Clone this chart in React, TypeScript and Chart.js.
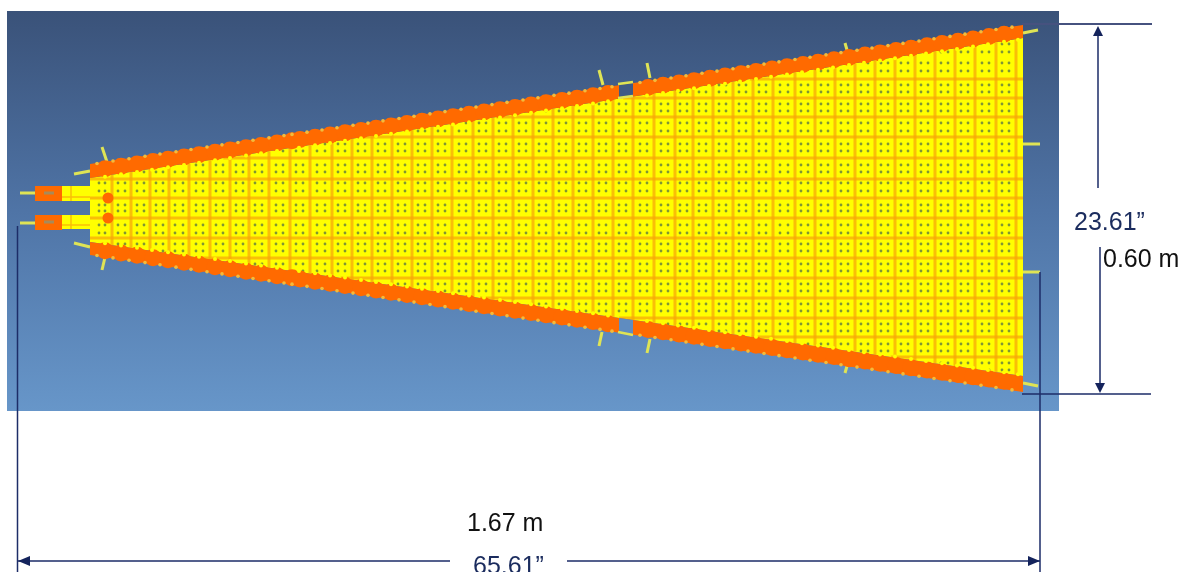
import React, { useEffect, useRef } from "react";
import { Chart, registerables } from "chart.js";

Chart.register(...registerables);

type P = [number, number];

const panel: P[] = [[7, 11], [1059, 11], [1059, 411], [7, 411]];
const topOuter: P[] = [[90, 164], [1023, 25]];
const topInner: P[] = [[90, 178], [1023, 38]];
const botInner: P[] = [[90, 242], [1023, 376]];
const botOuter: P[] = [[90, 255], [1023, 392]];

const gridX = [112, 131, 150, 169, 189, 210, 230, 249, 269, 290, 310, 332, 352, 372, 392, 412, 432, 452, 473, 493, 513, 533, 553, 573, 593, 613, 633, 654, 675, 693, 713, 733, 753, 773, 795, 815, 835, 855, 875, 895, 915, 935, 955, 975, 996, 1016];
const gridY = [79, 98, 117, 137, 158, 179, 198, 218, 238, 258, 278, 298, 318, 337, 357];
const dotX = [99, 105, 118, 125, 137, 144, 156, 163, 175, 183, 196, 203, 216, 223, 236, 243, 255, 262, 276, 283, 296, 303, 317, 325, 338, 345, 358, 365, 378, 385, 398, 405, 418, 425, 438, 445, 459, 466, 479, 486, 499, 506, 519, 526, 539, 546, 559, 566, 579, 586, 599, 606, 619, 626, 640, 647, 661, 668, 680, 687, 699, 706, 719, 726, 739, 746, 759, 766, 780, 788, 801, 808, 821, 828, 841, 848, 861, 868, 881, 888, 901, 908, 921, 928, 941, 948, 961, 968, 982, 989, 1002, 1009];
const dotY = [44, 52, 63, 71, 85, 92, 104, 111, 123, 131, 144, 151, 165, 172, 183, 191, 205, 211, 225, 233, 244, 251, 264, 271, 284, 291, 304, 311, 324, 331, 344, 351, 363, 370];
const rivetX = [97, 113, 129, 145, 160, 176, 191, 207, 222, 238, 253, 269, 284, 292, 307, 322, 337, 353, 368, 383, 399, 414, 430, 445, 461, 476, 492, 507, 523, 538, 554, 569, 585, 600, 612, 640, 655, 671, 686, 702, 717, 733, 748, 764, 779, 795, 810, 826, 841, 857, 872, 888, 903, 919, 934, 950, 965, 981, 996, 1012];
const bumpX = [105, 121, 137, 152, 168, 184, 199, 215, 230, 246, 261, 277, 299, 315, 330, 345, 361, 376, 391, 407, 422, 438, 453, 469, 484, 500, 515, 531, 546, 562, 577, 593, 608, 647, 663, 678, 694, 709, 725, 740, 756, 771, 787, 802, 818, 833, 849, 864, 880, 895, 911, 926, 942, 957, 973, 988, 1004, 1018];

const tabOrangeA: P[] = [[35, 186], [62, 186], [62, 201], [35, 201]];
const tabOrangeB: P[] = [[35, 215], [62, 215], [62, 230], [35, 230]];
const tabYellowA: P[] = [[62, 186], [90, 186], [90, 201], [62, 201]];
const tabYellowB: P[] = [[62, 215], [90, 215], [90, 229], [62, 229]];
const notchTop: P[] = [[619, 85], [633, 83], [633, 96], [619, 98]];
const notchBot: P[] = [[619, 318], [633, 320], [633, 334], [619, 332]];
const holes: P[] = [[108, 198], [108, 218]];

const stubs: P[][] = [
  [[20, 193], [35, 193]], [[20, 223], [35, 223]],
  [[102, 147], [107, 162]], [[74, 174], [90, 171]],
  [[74, 243], [90, 247]], [[102, 270], [106, 253]],
  [[599, 70], [603, 85]], [[647, 63], [650, 78]], [[845, 43], [847, 50]],
  [[599, 346], [602, 332]], [[647, 353], [650, 339]], [[845, 373], [847, 366]],
  [[1023, 33], [1038, 30]], [[1023, 383], [1038, 386]],
  [[1023, 144], [1040, 144]], [[1023, 272], [1040, 272]],
];
const notchEdges: P[][] = [[[618, 84], [633, 82]], [[618, 98], [633, 96]], [[618, 332], [633, 335]]];
const tabLines: P[][] = [
  [[62, 197], [90, 197]], [[62, 225], [90, 225]], [[71, 186], [71, 201]], [[71, 215], [71, 229]],
];
const slots: P[][] = [[[44, 193], [54, 193]], [[44, 222], [54, 222]]];

const dimThin: P[][] = [
  [[17.5, 226], [17.5, 572]],
  [[1040, 272], [1040, 572]],
  [[18, 561], [450, 561]],
  [[567, 561], [1040, 561]],
  [[1022, 394], [1151, 394]],
  [[1098, 36], [1098, 188]],
  [[1100, 247], [1100, 384]],
];
const dimTop: P[] = [[1022, 24], [1152, 24]];
const arrowHeads: P[][] = [
  [[1098, 26], [1103, 36], [1093, 36]],
  [[1100, 393], [1105, 383], [1095, 383]],
  [[18, 561], [30, 556], [30, 566]],
  [[1040, 561], [1028, 556], [1028, 566]],
];

const labels = ["23.61”", "0.60 m", "1.67 m", "65.61”"];
const labelX = [1074, 1103, 467, 473];
const labelY = [230, 267, 531, 574];
const labelColor = ["#1b2c5e", "#111111", "#111111", "#1b2c5e"];

function at(edge: P[], x: number) {
  const [a, b] = edge;
  return a[1] + ((x - a[0]) / (b[0] - a[0])) * (b[1] - a[1]);
}
function xAt(edge: P[], y: number) {
  const [a, b] = edge;
  return a[0] + ((y - a[1]) / (b[1] - a[1])) * (b[0] - a[0]);
}
const toXY = (p: P[]) => p.map(([x, y]) => ({ x, y }));
const breakJoin = (segs: P[][]) => {
  const out: any[] = [];
  segs.forEach((s) => {
    out.push(...toXY(s));
    out.push({ x: s[s.length - 1][0], y: null });
  });
  return out;
};

const YELLOW = "#ffff00";
const ORANGE = "#ff6a00";
const GRID = "rgba(246,165,10,0.72)";
const PALE = "#dfe455";

export default function App() {
  const ref = useRef<HTMLCanvasElement | null>(null);
  useEffect(() => {
    document.body.style.margin = "0";
    const canvas = ref.current!;
    const ctx = canvas.getContext("2d")!;
    const grad = ctx.createLinearGradient(0, 11, 0, 411);
    grad.addColorStop(0, "#3a5279");
    grad.addColorStop(0.5, "#4f74a6");
    grad.addColorStop(1, "#6796c9");

    const poly = (p: P[], color: any) => ({
      type: "scatter", data: toXY(p), showLine: true, fill: "shape", backgroundColor: color,
      borderColor: color, borderWidth: 0, pointRadius: 0, tension: 0,
    });
    const line = (segs: P[][], color: string, w: number) => ({
      type: "scatter", data: breakJoin(segs), showLine: true, fill: false, borderColor: color,
      borderWidth: w, pointRadius: 0, tension: 0, spanGaps: false,
    });
    const pts = (p: P[], color: string, r: number) => ({
      type: "scatter", data: toXY(p), showLine: false, backgroundColor: color,
      borderWidth: 0, pointRadius: r,
    });

    const gridV: P[][] = gridX.map((x) => [[x, at(topInner, x)], [x, at(botInner, x)]]);
    const gridH: P[][] = gridY.map((y) => {
      const x0 = y < 178 ? xAt(topInner, y) : y > 242 ? xAt(botInner, y) : 90;
      return [[x0, y], [1023, y]];
    });
    const dots: P[] = [];
    dotX.forEach((x) =>
      dotY.forEach((y) => {
        if (y > at(topInner, x) + 1 && y < at(botInner, x) - 1) dots.push([x, y]);
      })
    );
    const rivets: P[] = [
      ...rivetX.map((x): P => [x, at(topOuter, x) + 0.5]),
      ...rivetX.map((x): P => [x, at(botOuter, x) - 0.5]),
    ];
    const bumps: P[] = [
      ...bumpX.map((x): P => [x, at(topInner, x) + 1]),
      ...bumpX.map((x): P => [x, at(botInner, x) - 1]),
    ];
    const blobs: P[] = [
      ...rivetX.map((x): P => [x + 8, (at(topOuter, x + 8) + at(topInner, x + 8)) / 2]),
      ...rivetX.map((x): P => [x + 8, (at(botOuter, x + 8) + at(botInner, x + 8)) / 2]),
    ].filter(([x]) => x < 1016 && (x < 612 || x > 640));

    const layers: any[] = [
      poly(panel, grad),
      ...stubs.map((s) => line([s], PALE, 3)),
      poly([topInner[0], topInner[1], botInner[1], botInner[0]], YELLOW),
      line(gridV, GRID, 3),
      line(gridH, GRID, 3),
      pts(dots, "#7f9634", 1.4),
      poly([topOuter[0], topOuter[1], topInner[1], topInner[0]], ORANGE),
      poly([botInner[0], botInner[1], botOuter[1], botOuter[0]], ORANGE),
      pts(blobs, ORANGE, 8.5),
      pts(rivets, "#f2bb3c", 1.8),
      pts(bumps, YELLOW, 2),
      poly(notchTop, "#3f5a85"),
      poly(notchBot, "#5f8cc0"),
      line(notchEdges, PALE, 2.5),
      poly(tabYellowA, YELLOW),
      poly(tabYellowB, YELLOW),
      line(tabLines, GRID, 1.5),
      poly(tabOrangeA, ORANGE),
      poly(tabOrangeB, ORANGE),
      line(slots, "#a88a5a", 3),
      pts(holes, ORANGE, 5.5),
      line(dimThin, "#1d2d68", 1.5),
      line([dimTop], "#46527f", 2),
      ...arrowHeads.map((a) => poly(a, "#14235c")),
    ];
    layers.forEach((l, i) => (l.order = layers.length - i));

    const textPlugin = {
      id: "dimText",
      afterDatasetsDraw(chart: any) {
        const c = chart.ctx;
        c.save();
        c.textAlign = "left";
        c.textBaseline = "alphabetic";
        c.font = '25px "Liberation Sans", Arial, sans-serif';
        labels.forEach((t, i) => {
          c.fillStyle = labelColor[i];
          c.fillText(t, chart.scales.x.getPixelForValue(labelX[i]), chart.scales.y.getPixelForValue(labelY[i]));
        });
        c.restore();
      },
    };

    const chart = new Chart(canvas, {
      type: "scatter",
      data: { datasets: layers },
      options: {
        responsive: false,
        animation: false,
        layout: { padding: 0, autoPadding: false },
        plugins: { legend: { display: false }, tooltip: { enabled: false }, title: { display: false } },
        scales: {
          x: { type: "linear", display: false, min: 0, max: 1188 },
          y: { type: "linear", display: false, min: 0, max: 572, reverse: true },
        },
      } as any,
      plugins: [textPlugin],
    } as any);
    return () => chart.destroy();
  }, []);
  return (
    <canvas
      ref={ref}
      width={1188}
      height={572}
      style={{ display: "block", width: 1188, height: 572, filter: "blur(0.7px)" }}
    />
  );
}
